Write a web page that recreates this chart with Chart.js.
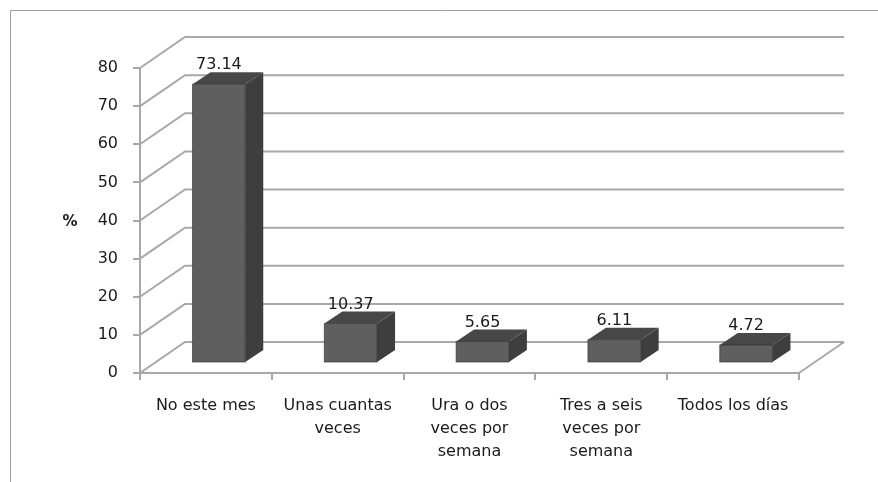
<!DOCTYPE html>
<html>
<head>
<meta charset="utf-8">
<script src="https://cdn.jsdelivr.net/npm/chart.js@4"></script>
<style>
  body { margin: 0; background: #fff; }
  #wrap { width: 878px; height: 482px; position: relative; }
</style>
</head>
<body>
<div id="wrap"><canvas id="freqChart"></canvas></div>
<script>
const categories = [
    "No este mes",
    ["Unas cuantas", "veces"],
    ["Ura o dos", "veces por", "semana"],
    ["Tres a seis", "veces por", "semana"],
    "Todos los días"
];
const percentages = [73.14, 10.37, 5.65, 6.11, 4.72];
const yTicks = [0, 10, 20, 30, 40, 50, 60, 70, 80];
const axisTitle = "%";

// 3d look
const depth = { dx: 45, dy: -31 };
const barShift = { dx: 13, dy: -10 };
const barDepth = { dx: 18, dy: -12 };
const lineGray = "#a8a8a8";
const textColor = "#1a1a1a";
const fontFamily = "'DejaVu Sans', sans-serif";

const walls3d = {
    id: "walls3d",
    beforeDraw(chart) {
        const ctx = chart.ctx;
        ctx.save();
        ctx.strokeStyle = "#a0a0a0";
        ctx.lineWidth = 1;
        ctx.beginPath();
        ctx.moveTo(10.5, chart.height);
        ctx.lineTo(10.5, 10.5);
        ctx.lineTo(chart.width, 10.5);
        ctx.stroke();
        ctx.restore();
    },
    beforeDatasetsDraw(chart) {
        const ctx = chart.ctx;
        const y = chart.scales.y;
        const area = chart.chartArea;
        ctx.save();
        ctx.strokeStyle = lineGray;
        ctx.lineWidth = 2;
        yTicks.forEach(v => {
            const py = y.getPixelForValue(v);
            ctx.beginPath();
            ctx.moveTo(area.left, py);
            ctx.lineTo(area.left + depth.dx, py + depth.dy);
            ctx.lineTo(area.right + depth.dx, py + depth.dy);
            ctx.stroke();
        });
        const base = y.getPixelForValue(0);
        ctx.beginPath();
        ctx.moveTo(area.right, base);
        ctx.lineTo(area.right + depth.dx, base + depth.dy);
        ctx.stroke();

        ctx.fillStyle = textColor;
        ctx.font = "bold 15px " + fontFamily;
        ctx.textAlign = "center";
        ctx.textBaseline = "middle";
        ctx.fillText(axisTitle, 70, (area.top + area.bottom) / 2 + 2);
        ctx.restore();
    },
    afterDatasetsDraw(chart) {
        const ctx = chart.ctx;
        const meta = chart.getDatasetMeta(0);
        ctx.save();
        meta.data.forEach((bar, i) => {
            const w = bar.width;
            const x0 = bar.x - w / 2 + barShift.dx;
            const x1 = x0 + w;
            const top = bar.y + barShift.dy;
            const bottom = bar.base + barShift.dy;
            // side
            ctx.fillStyle = "#3e3e3e";
            ctx.beginPath();
            ctx.moveTo(x1, bottom);
            ctx.lineTo(x1 + barDepth.dx, bottom + barDepth.dy);
            ctx.lineTo(x1 + barDepth.dx, top + barDepth.dy);
            ctx.lineTo(x1, top);
            ctx.closePath();
            ctx.fill();
            // top
            ctx.fillStyle = "#474747";
            ctx.beginPath();
            ctx.moveTo(x0, top);
            ctx.lineTo(x0 + barDepth.dx, top + barDepth.dy);
            ctx.lineTo(x1 + barDepth.dx, top + barDepth.dy);
            ctx.lineTo(x1, top);
            ctx.closePath();
            ctx.fill();
            // front
            ctx.fillStyle = "#5f5f5f";
            ctx.fillRect(x0, top, w, bottom - top);
            ctx.strokeStyle = "rgba(40,40,40,0.6)";
            ctx.lineWidth = 1;
            ctx.strokeRect(x0, top, w, bottom - top);

            // value label
            ctx.fillStyle = textColor;
            ctx.font = "16px " + fontFamily;
            ctx.textAlign = "center";
            ctx.textBaseline = "middle";
            ctx.fillText(percentages[i].toFixed(2), bar.x + barShift.dx, top + barDepth.dy - 7);
        });
        ctx.restore();
    }
};

const canvas = document.getElementById("freqChart");

new Chart(canvas, {
    type: "bar",
    data: {
        labels: categories,
        datasets: [{
            label: "%",
            data: percentages,
            backgroundColor: "rgba(0,0,0,0)",
            borderWidth: 0,
            categoryPercentage: 1,
            barPercentage: 0.4
        }]
    },
    options: {
        responsive: true,
        maintainAspectRatio: false,
        animation: false,
        events: [],
        layout: {
            padding: { left: 10, top: 68, right: 79, bottom: 0 }
        },
        plugins: {
            legend: { display: false },
            tooltip: { enabled: false }
        },
        scales: {
            x: {
                afterFit(scale) { scale.height = 109; },
                border: { display: true, color: lineGray, width: 2 },
                grid: {
                    offset: true,
                    drawOnChartArea: false,
                    drawTicks: true,
                    tickLength: 7,
                    color: lineGray,
                    lineWidth: 2
                },
                ticks: {
                    color: textColor,
                    font: { family: fontFamily, size: 16, lineHeight: 1.45 },
                    padding: 14,
                    maxRotation: 0,
                    autoSkip: false
                }
            },
            y: {
                min: 0,
                max: 80,
                afterFit(scale) { scale.width = 130; },
                border: { display: true, color: lineGray, width: 2 },
                grid: {
                    drawOnChartArea: false,
                    drawTicks: true,
                    tickLength: 7,
                    color: lineGray,
                    lineWidth: 2
                },
                ticks: {
                    stepSize: 10,
                    color: textColor,
                    font: { family: fontFamily, size: 16 },
                    padding: 15
                }
            }
        }
    },
    plugins: [walls3d]
});
</script>
</body>
</html>
